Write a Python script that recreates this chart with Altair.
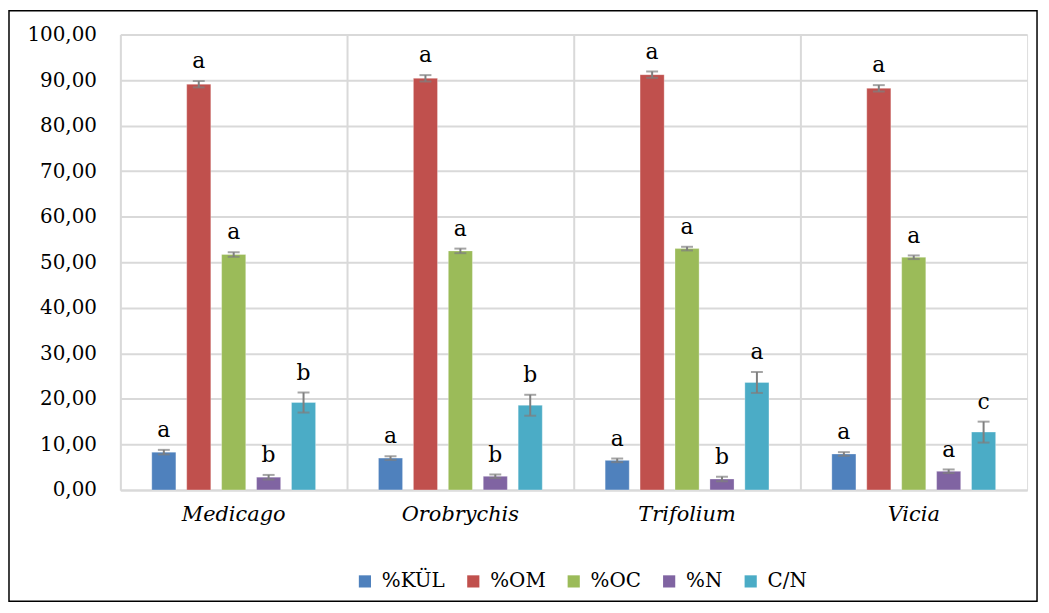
import altair as alt
import pandas as pd

genera = ["Medicago", "Orobrychis", "Trifolium", "Vicia"]
series = ["%KÜL", "%OM", "%OC", "%N", "C/N"]
colors = ["#4F81BD", "#C0504D", "#9BBB59", "#8064A2", "#4BACC6"]

kul = [8.3, 7.0, 6.5, 7.9]
om = [89.1, 90.4, 91.2, 88.2]
oc = [51.7, 52.5, 53.0, 51.1]
n = [2.8, 3.0, 2.4, 4.1]
cn = [19.2, 18.6, 23.6, 12.7]

kul_err = [0.5, 0.4, 0.4, 0.4]
om_err = [0.7, 0.7, 0.7, 0.7]
oc_err = [0.5, 0.5, 0.4, 0.4]
n_err = [0.5, 0.4, 0.5, 0.4]
cn_err = [2.2, 2.3, 2.3, 2.3]

kul_let = ["a", "a", "a", "a"]
om_let = ["a", "a", "a", "a"]
oc_let = ["a", "a", "a", "a"]
n_let = ["b", "b", "b", "a"]
cn_let = ["b", "b", "a", "c"]

rows = []
for s, vals, errs, lets in [
    ("%KÜL", kul, kul_err, kul_let),
    ("%OM", om, om_err, om_let),
    ("%OC", oc, oc_err, oc_let),
    ("%N", n, n_err, n_let),
    ("C/N", cn, cn_err, cn_let),
]:
    for g, v, e, l in zip(genera, vals, errs, lets):
        rows.append({"genus": g, "series": s, "value": v, "lo": v - e, "hi": v + e, "letter": l})
df = pd.DataFrame(rows)

FONT = "DejaVu Serif"

x = alt.X("genus:N", sort=genera, title=None,
          scale=alt.Scale(paddingInner=0, paddingOuter=0),
          axis=alt.Axis(labelFont=FONT, labelFontSize=21, labelFontStyle="italic",
                        labelColor="black", labelAngle=0, labelPadding=14,
                        ticks=False, domain=True, domainColor="#d9d9d9", domainWidth=2,
                        grid=True, gridColor="#d9d9d9", gridWidth=2, bandPosition=0))
xo = alt.XOffset("series:N", sort=series,
                 scale=alt.Scale(paddingInner=0.31, paddingOuter=0.9))
y = alt.Y("value:Q", title=None,
          scale=alt.Scale(domain=[0, 100], nice=False),
          axis=alt.Axis(values=list(range(0, 101, 10)), labelFont=FONT, labelFontSize=20,
                        labelColor="black", labelPadding=24, ticks=False, domain=False,
                        gridColor="#d9d9d9", gridWidth=2,
                        labelExpr="replace(format(datum.value, '.2f'), '.', ',')"))

base = alt.Chart(df)

bars = base.mark_bar(stroke="white", strokeWidth=0.5, strokeOpacity=0.6).encode(
    x=x, xOffset=xo, y=y,
    color=alt.Color("series:N", sort=series,
                    scale=alt.Scale(domain=series, range=colors),
                    legend=alt.Legend(title=None, orient="none", direction="horizontal",
                                      legendX=236, legendY=540,
                                      labelFont=FONT, labelFontSize=20, labelColor="black",
                                      symbolType="square", symbolSize=150,
                                      symbolStrokeWidth=0, labelOffset=7,
                                      columnPadding=18)),
)

rule = base.mark_rule(color="#7f7f7f", strokeWidth=2).encode(
    x=alt.X("genus:N", sort=genera), xOffset=xo,
    y=alt.Y("lo:Q"), y2="hi:Q")
cap_hi = base.mark_tick(color="#7f7f7f", thickness=2, size=12).encode(
    x=alt.X("genus:N", sort=genera), xOffset=xo, y=alt.Y("hi:Q"))
cap_lo = base.mark_tick(color="#7f7f7f", thickness=2, size=12).encode(
    x=alt.X("genus:N", sort=genera), xOffset=xo, y=alt.Y("lo:Q"))
letters = base.mark_text(font=FONT, fontSize=22, color="black", baseline="alphabetic",
                         dy=-13).encode(
    x=alt.X("genus:N", sort=genera), xOffset=xo, y=alt.Y("hi:Q"), text="letter:N")

frame = alt.Chart(pd.DataFrame({"k": [0]})).mark_rect(
    fill=None, stroke="black", strokeWidth=1.5).encode(
    x=alt.value(-112), x2=alt.value(922), y=alt.value(-24), y2=alt.value(570))

chart = alt.layer(frame, bars, rule, cap_hi, cap_lo, letters).properties(
    width=912, height=458,
    autosize=alt.AutoSizeParams(type="none"),
    padding={"left": 113, "top": 25, "right": 14, "bottom": 117},
).configure_view(stroke="#d9d9d9", strokeWidth=2, fill="#f4f4f4").configure(
    background="white")

chart.save("out.html", embed_options={"renderer": "svg", "actions": False})
